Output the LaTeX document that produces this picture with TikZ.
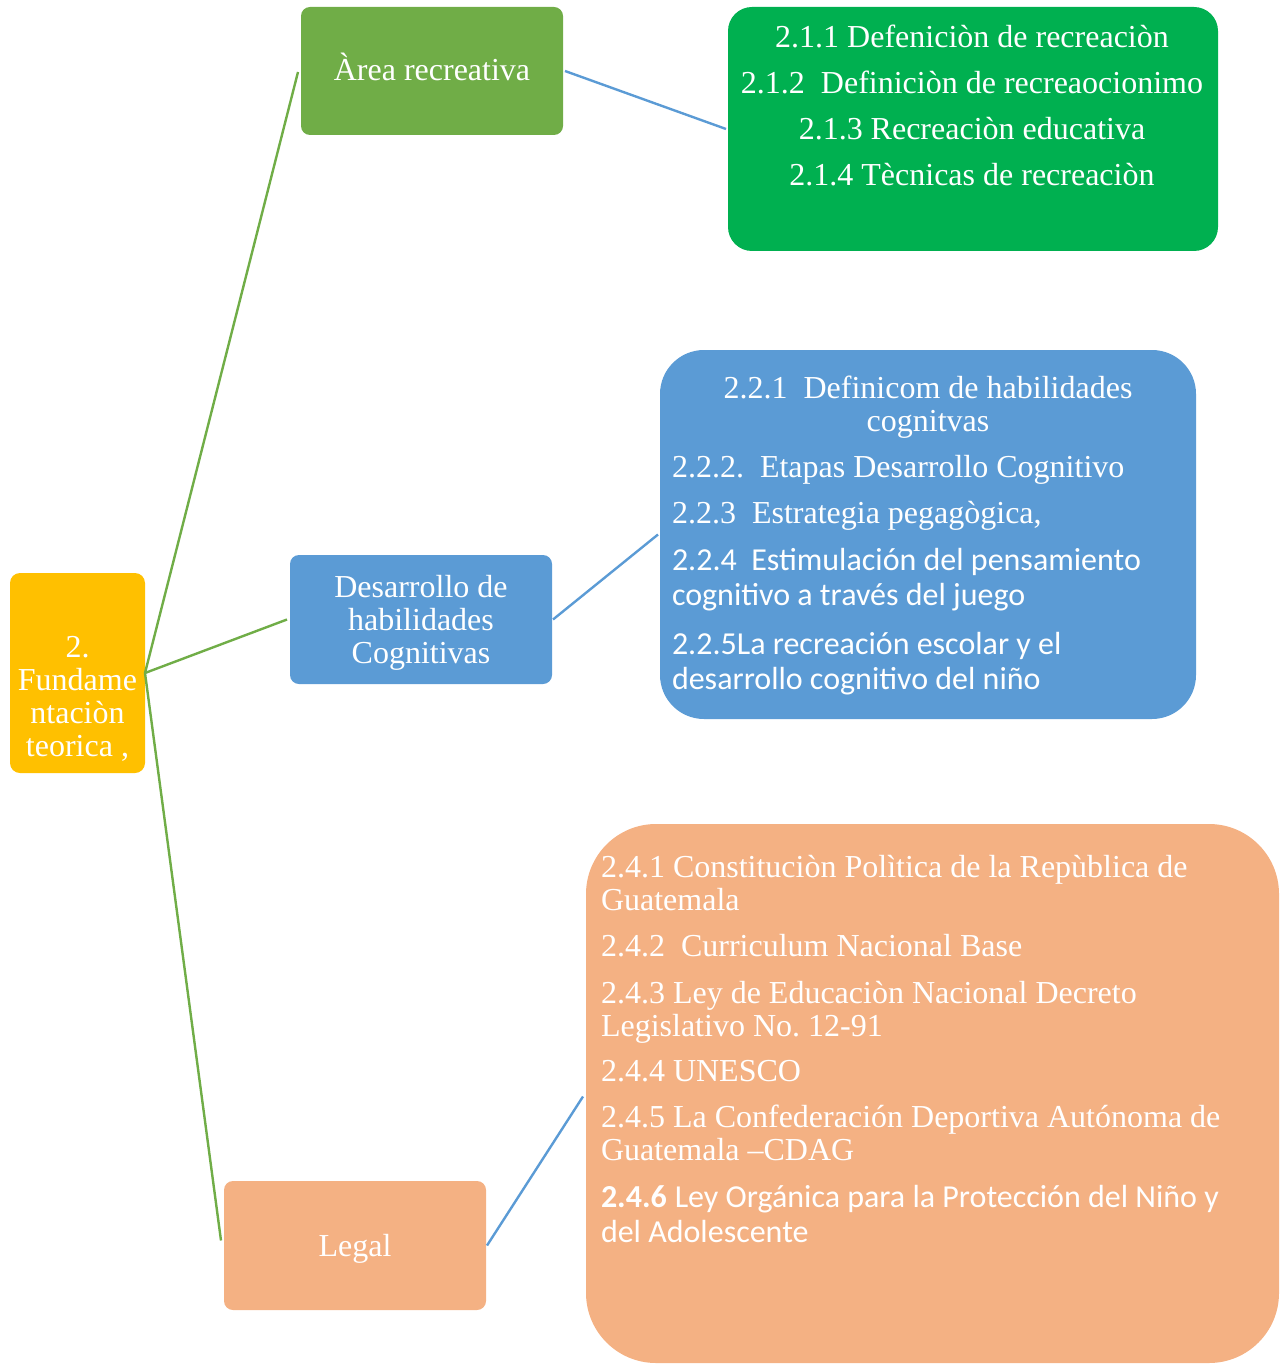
\documentclass[tikz,border=0pt]{standalone}
\usepackage{fontspec}
\setmainfont{Liberation Serif}
\newfontfamily\calibri{Carlito}
\definecolor{cyellow}{HTML}{FFC000}
\definecolor{cgreenA}{HTML}{70AD47}
\definecolor{cblue}{HTML}{5B9BD5}
\definecolor{corange}{HTML}{F4B183}
\definecolor{cgreenB}{HTML}{00B050}
\begin{document}
\begin{tikzpicture}[x=0.5pt,y=-0.5pt,
  shape box/.style={rectangle, inner sep=0pt, outer sep=0pt, anchor=north west, draw=none},
  txt/.style={text=white, inner sep=0pt, outer sep=0pt, font=\fontsize{16}{16.5}\selectfont},
  gline/.style={draw=cgreenA, line width=1.2pt},
  bline/.style={draw=cblue, line width=1.2pt}]
\useasboundingbox (0,0) rectangle (1279,1364);

% boxes
\node[shape box, fill=cyellow, rounded corners=5pt, minimum width=67.5pt, minimum height=100pt] (root) at (10,573) {};
\node[shape box, fill=cgreenA, rounded corners=4.5pt, minimum width=131pt, minimum height=64pt] (area) at (301,7) {};
\node[shape box, fill=cblue, rounded corners=4.5pt, minimum width=131pt, minimum height=64.5pt] (dev) at (290,555) {};
\node[shape box, fill=corange, rounded corners=4.5pt, minimum width=131pt, minimum height=64.5pt] (legal) at (224,1181) {};
\node[shape box, fill=cgreenB, rounded corners=12pt, minimum width=245pt, minimum height=122pt] (gbox) at (728,7) {};
\node[shape box, fill=cblue, rounded corners=22pt, minimum width=268pt, minimum height=184.5pt] (bbox) at (660,350) {};
\node[shape box, fill=corange, rounded corners=35pt, minimum width=346.5pt, minimum height=269.5pt] (obox) at (586,824) {};

% connectors
\draw[gline] (root.east) -- ([shift={(-3,1)}]area.west);
\draw[gline] (root.east) -- ([shift={(-3,0)}]dev.west);
\draw[gline] (root.east) -- ([shift={(-3,-5)}]legal.west);
\draw[bline] ([shift={(2,0)}]area.east) -- ([shift={(-2,0)}]gbox.west);
\draw[bline] ([shift={(1,0)}]dev.east) -- ([shift={(-2,0)}]bbox.west);
\draw[bline] ([shift={(1,0)}]legal.east) -- ([shift={(-3,3)}]obox.west);

% texts (base anchor = baseline of the last line)
\node[txt, anchor=base, align=center] (roott) at (77.5,756) {2.\\Fundame\\ntaciòn\\teorica ,};
\node[txt, anchor=base] (areat) at (432,81) {Àrea recreativa};
\node[txt, anchor=base, align=center] (devt) at (421,663) {Desarrollo de\\habilidades\\Cognitivas};
\node[txt, anchor=base] (legalt) at (355,1256) {Legal};

\node[txt, anchor=base, align=center, font=\fontsize{16}{23}\selectfont] (gt) at (972,186)
  {2.1.1 Defeniciòn de recreaciòn\\2.1.2\ \ Definiciòn de recreaocionimo\\2.1.3 Recreaciòn educativa\\2.1.4 Tècnicas de recreaciòn};

\node[txt, anchor=base, align=center] (bt1) at (928,431)
  {2.2.1\ \ Definicom de habilidades\\cognitvas};
\node[txt, anchor=base west, align=left, font=\fontsize{16}{17.5}\selectfont] (bt2) at (672,689)
  {2.2.2.\ \ Etapas Desarrollo Cognitivo\\[5.5pt]
   2.2.3\ \ Estrategia pegagògica,\\[6pt]
   {\calibri 2.2.4\ \ Estimulación del pensamiento}\\
   {\calibri cognitivo a través del juego}\\[7pt]
   {\calibri 2.2.5La recreación escolar y el}\\
   {\calibri desarrollo cognitivo del niño}};

\node[txt, anchor=base west, align=left] (ot) at (601,1242)
  {2.4.1 Constituciòn Polìtica de la Repùblica de\\
   Guatemala\\[6.5pt]
   2.4.2\ \ Curriculum Nacional Base\\[7pt]
   2.4.3 Ley de Educaciòn Nacional Decreto\\
   Legislativo No.\ 12-91\\[6pt]
   2.4.4 UNESCO\\[6.5pt]
   2.4.5 La Confederación Deportiva Autónoma de\\
   Guatemala –CDAG\\[7pt]
   {\calibri\bfseries 2.4.6} {\calibri Ley Orgánica para la Protección del Niño y}\\[1pt]
   {\calibri del Adolescente}};
\end{tikzpicture}
\end{document}
